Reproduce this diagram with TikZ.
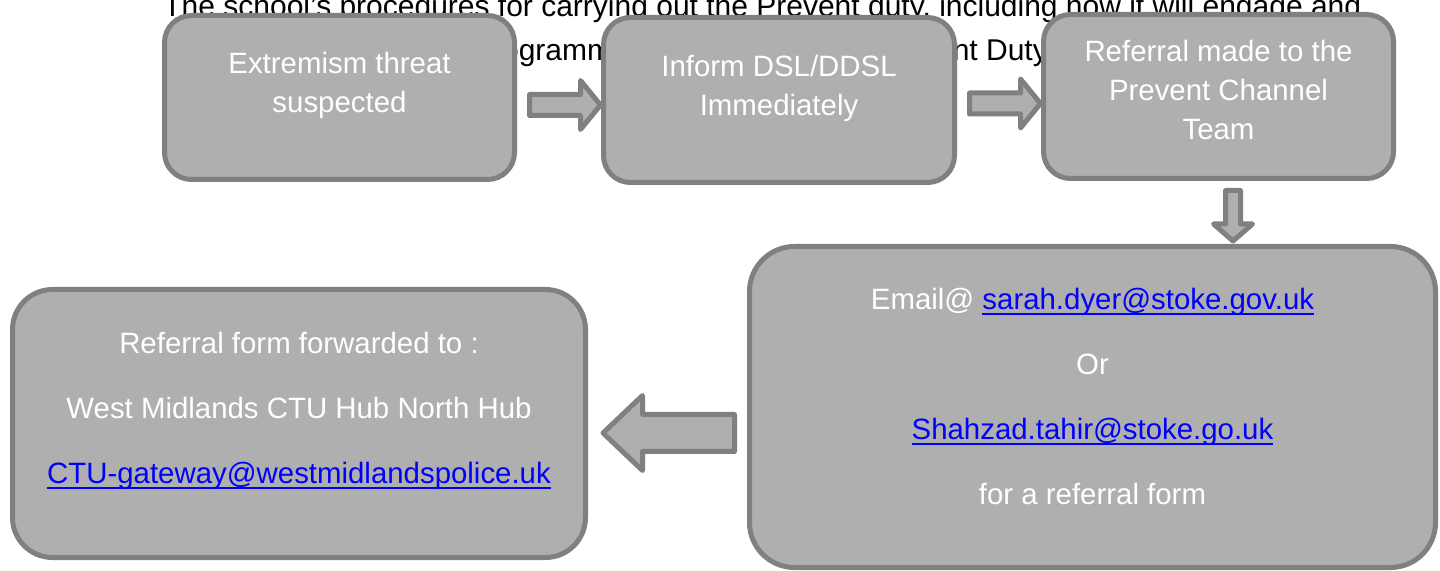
\documentclass[tikz,border=0pt]{standalone}
\usepackage{fontspec}
\setmainfont{Liberation Sans}
\usetikzlibrary{positioning}

\definecolor{boxfill}{HTML}{AFAFAF}
\definecolor{boxline}{HTML}{808080}
\definecolor{linkblue}{HTML}{0000FF}

% underlined e-mail address
\newcommand\maillink[1]{\textcolor{linkblue}{\setbox0\hbox{#1}\rlap{\rule[-0.2em]{\wd0}{0.07em}}\box0}}

\tikzset{
  pics/fatarrow/.style n args={4}{code={
    \draw[arrowbody] (0,-#2) -- ({#1-#4},-#2) -- ({#1-#4},-#3) -- (#1,0)
      -- ({#1-#4},#3) -- ({#1-#4},#2) -- (0,#2) -- cycle;
  }}
}

\begin{document}
\begin{tikzpicture}[x=0.5pt,y=-0.5pt,
    flowbox/.style={draw=boxline,fill=boxfill,line width=2.5pt,inner sep=0pt},
    boxtext/.style={text=white,align=center,inner sep=0pt,outer sep=0pt,
      font=\fontsize{14.7}{19.5}\selectfont},
    bigtext/.style={boxtext,font=\fontsize{14.7}{32.5}\selectfont},
    paratext/.style={anchor=base west,inner sep=0pt,font=\fontsize{15}{19.5}\selectfont},
    arrowbody/.style={draw=boxline,fill=boxfill,line width=2.5pt,line join=round}]
    \useasboundingbox (0,0) rectangle (1440,571);
    % text of the page behind the chart
    \node[paratext] (para-a) at (163,17) {The school’s procedures for carrying out the Prevent duty, including how it will engage and};
    \node[paratext] (para-b) at (475,61) {programme};
    \node[paratext] (para-c) at (874,61) {Prevent Duty};
    % boxes
    \node[flowbox,rounded corners=13.5pt,minimum width=175pt,minimum height=82pt] (threat) at (339.5,97.5) {};
    \node[flowbox,rounded corners=13.5pt,minimum width=175.5pt,minimum height=82.5pt] (inform) at (779,100) {};
    \node[flowbox,rounded corners=13.5pt,minimum width=175pt,minimum height=82pt] (channel) at (1218.5,96.5) {};
    \node[flowbox,rounded corners=22.5pt,minimum width=343pt,minimum height=160.5pt] (contact) at (1092.5,407) {};
    \node[flowbox,rounded corners=20pt,minimum width=286.5pt,minimum height=134pt] (hub) at (299,423.5) {};
    % arrows
    \pic at ([shift={(12.5,7.5)}]threat.east) {fatarrow={71}{10.5}{24.5}{20}};
    \pic at ([shift={(12.5,3.5)}]inform.east) {fatarrow={71}{10.5}{24.5}{20}};
    \pic[rotate=-90] at ([shift={(14.5,9.5)}]channel.south) {fatarrow={50.5}{7.5}{19.5}{17}};
    \pic[rotate=180] at ([shift={(-12.5,26)}]contact.west) {fatarrow={131.5}{18.5}{37.5}{39.5}};
    % box texts
    \node[boxtext,below=19.5pt of threat.north] (threat-txt) {Extremism threat\\suspected};
    \node[boxtext,below=20pt of inform.north] (inform-txt) {Inform DSL/DDSL\\Immediately};
    \node[boxtext,below=14pt of channel.north] (channel-txt) {Referral made to the\\Prevent Channel\\Team};
    \node[bigtext,below=22pt of contact.north] (contact-txt) {Email@ \maillink{sarah.dyer@stoke.gov.uk}\\Or\\\maillink{Shahzad.tahir@stoke.go.uk}\\for a referral form};
    \node[bigtext,below=22.5pt of hub.north] (hub-txt) {Referral form forwarded to :\\West Midlands CTU Hub North Hub\\\maillink{CTU-gateway@westmidlandspolice.uk}};
\end{tikzpicture}
\end{document}
